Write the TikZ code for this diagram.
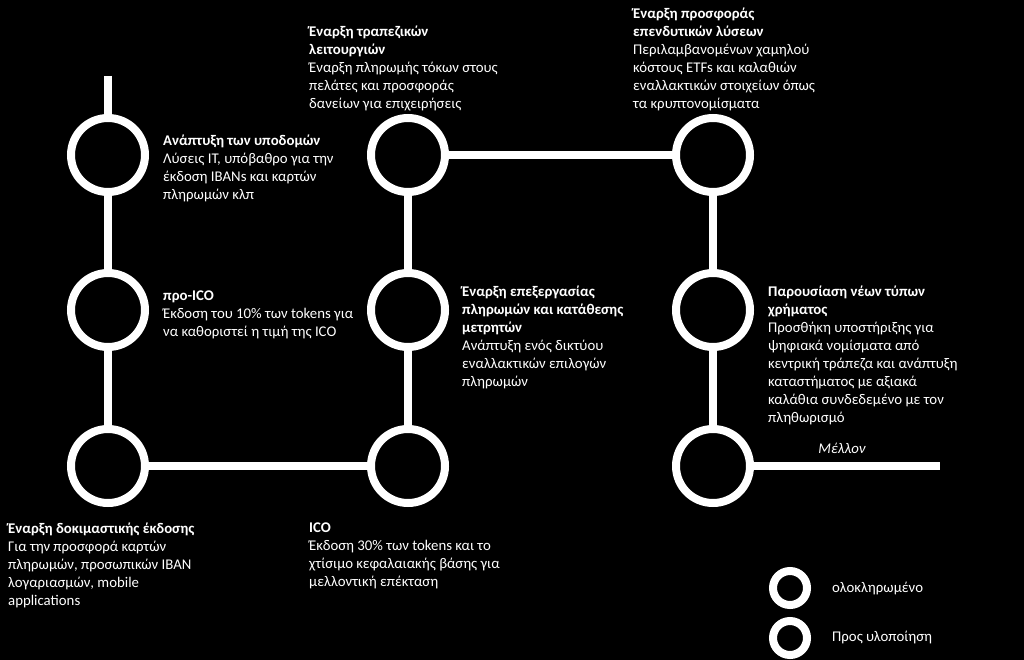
\documentclass[tikz,border=0pt]{standalone}
\usepackage{fontspec}
\setmainfont{Carlito}
\begin{document}
\begin{tikzpicture}[x=1pt,y=-1pt,
  ring/.style={circle, draw=white, fill=black, line width=8pt, minimum size=74pt, inner sep=0pt},
  legring/.style={circle, draw=white, fill=black, line width=8pt, minimum size=34pt, inner sep=0pt},
  conn/.style={draw=white, line width=8pt},
  txt/.style={text=white, align=left, anchor=north west, inner sep=0pt, font=\fontsize{14.8}{18}\selectfont},
  legtxt/.style={text=white, anchor=west, inner sep=0pt, font=\fontsize{14.8}{18}\selectfont}]
\fill[black] (0,0) rectangle (1024,660);
\useasboundingbox (0,0) rectangle (1024,660);
% connector end points
\coordinate (top) at (108,76);
\coordinate (fut) at (940,466);
% rings
\node[ring] (n1) at (108,155) {};
\node[ring] (n2) at (108,310) {};
\node[ring] (n3) at (108,466) {};
\node[ring] (m1) at (408,155) {};
\node[ring] (m2) at (408,310) {};
\node[ring] (m3) at (408,466) {};
\node[ring] (r1) at (713,155) {};
\node[ring] (r2) at (713,310) {};
\node[ring] (r3) at (713,466) {};
% connectors
\draw[conn] (top) -- (n1);
\draw[conn] (n1) -- (n2);
\draw[conn] (n2) -- (n3);
\draw[conn] (n3) -- (m3);
\draw[conn] (m3) -- (m2);
\draw[conn] (m2) -- (m1);
\draw[conn] (m1) -- (r1);
\draw[conn] (r1) -- (r2);
\draw[conn] (r2) -- (r3);
\draw[conn] (r3) -- (fut);
% texts
\node[txt] (t1) at (163,134.5) {\textbf{Ανάπτυξη των υποδομών}\\Λύσεις IT, υπόβαθρο για την\\έκδοση IBANs και καρτών\\πληρωμών κλπ};
\node[txt] (t2) at (163,290.5) {\textbf{προ-ICO}\\Έκδοση του 10\% των tokens για\\να καθοριστεί η τιμή της ICO};
\node[txt] (t3) at (8,522.5) {\textbf{Έναρξη δοκιμαστικής έκδοσης}\\Για την προσφορά καρτών\\πληρωμών, προσωπικών IBAN\\λογαριασμών, mobile\\applications};
\node[txt] (t4) at (309,25.5) {\textbf{Έναρξη τραπεζικών}\\\textbf{λειτουργιών}\\Έναρξη πληρωμής τόκων στους\\πελάτες και προσφοράς\\δανείων για επιχειρήσεις};
\node[txt] (t5) at (462,285.5) {\textbf{Έναρξη επεξεργασίας}\\\textbf{πληρωμών και κατάθεσης}\\\textbf{μετρητών}\\Ανάπτυξη ενός δικτύου\\εναλλακτικών επιλογών\\πληρωμών};
\node[txt] (t6) at (309,522.5) {\textbf{ICO}\\Έκδοση 30\% των tokens και το\\χτίσιμο κεφαλαιακής βάσης για\\μελλοντική επέκταση};
\node[txt] (t7) at (633,7.5) {\textbf{Έναρξη προσφοράς}\\\textbf{επενδυτικών λύσεων}\\Περιλαμβανομένων χαμηλού\\κόστους ETFs και καλαθιών\\εναλλακτικών στοιχείων όπως\\τα κρυπτονομίσματα};
\node[txt] (t8) at (768,285.5) {\textbf{Παρουσίαση νέων τύπων}\\\textbf{χρήματος}\\Προσθήκη υποστήριξης για\\ψηφιακά νομίσματα από\\κεντρική τράπεζα και ανάπτυξη\\καταστήματος με αξιακά\\καλάθια συνδεδεμένο με τον\\πληθωρισμό};
\node[text=white, inner sep=0pt, font=\fontsize{14.8}{18}\selectfont\itshape] (fl) at (842,448) {Μέλλον};
% legend
\node[legring] (l1) at (790,588) {};
\node[legring] (l2) at (790,638) {};
\node[legtxt] (lt1) at (832,588) {ολοκληρωμένο};
\node[legtxt] (lt2) at (832,637) {Προς υλοποίηση};
\end{tikzpicture}
\end{document}
